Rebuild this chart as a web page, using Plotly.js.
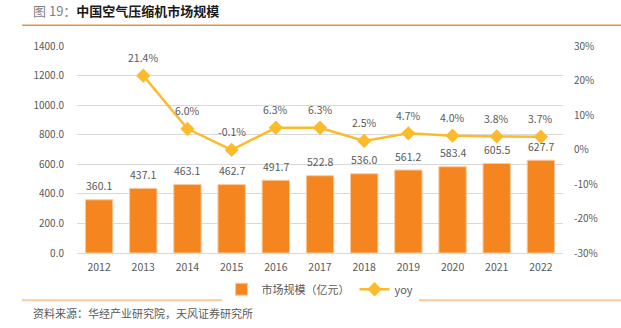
<!DOCTYPE html>
<html><head><meta charset="utf-8">
<script src="https://cdn.plot.ly/plotly-3.0.1.min.js"></script>
<style>html,body{margin:0;padding:0;background:#fff;}#chart{width:621px;height:328px;}</style>
</head><body><div id="chart"></div>
<script>
const years = ['2012','2013','2014','2015','2016','2017','2018','2019','2020','2021','2022'];
const marketSize = [360.1,437.1,463.1,462.7,491.7,522.8,536.0,561.2,583.4,605.5,627.7];
const yoy = [null,21.4,6.0,-0.1,6.3,6.3,2.5,4.7,4.0,3.8,3.7];
const leftTicks = [0,200,400,600,800,1000,1200,1400];
const rightTicks = [-30,-20,-10,0,10,20,30];

const FONT = '"Noto Sans CJK SC", "Noto Sans", sans-serif';
const GRAY = '#595959';

const bar = {
  type:'bar', x:years, y:marketSize, name:'市场规模（亿元）',
  marker:{color:'#F5861F', line:{color:'#FBC9A0', width:1}},
  width:0.62, cliponaxis:false, hoverinfo:'none'
};
const line = {
  type:'scatter', mode:'lines+markers', x:years, y:yoy, yaxis:'y2', name:'yoy',
  line:{color:'#FCBB2A', width:2.5}, marker:{symbol:'diamond', size:11, color:'#FCBB2A'},
  connectgaps:false, cliponaxis:false, hoverinfo:'none'
};

const annotations = [];
years.forEach((yr,i)=>{
  annotations.push({x:i, y:marketSize[i], xref:'x', yref:'y', text:marketSize[i].toFixed(1),
    showarrow:false, yshift:14, font:{family:FONT, size:10.5, color:GRAY}});
  if (yoy[i] !== null) {
    annotations.push({x:i, y:yoy[i], xref:'x', yref:'y2', text:yoy[i].toFixed(1)+'%',
      showarrow:false, yshift:18, font:{family:FONT, size:10.5, color:GRAY}});
  }
});
annotations.push({xref:'paper', yref:'paper', x:-0.095, y:1.17, xanchor:'left', yanchor:'middle', showarrow:false,
  text:'<span style="color:#7f7f7f;font-weight:normal">图 19：</span><b>中国空气压缩机市场规模</b>',
  font:{family:FONT, size:13, color:'#1a1a1a'}});
annotations.push({xref:'paper', yref:'paper', x:-0.095, y:-0.29, xanchor:'left', yanchor:'middle', showarrow:false,
  text:'资料来源：华经产业研究院，天风证券研究所', font:{family:FONT, size:11, color:GRAY}});

const layout = {
  width:621, height:328,
  margin:{l:77, r:58, t:46, b:75},
  paper_bgcolor:'#fff', plot_bgcolor:'#fff',
  font:{family:FONT, size:10, color:GRAY},
  showlegend:true,
  legend:{orientation:'h', x:0.5, xanchor:'center', y:-0.175, yanchor:'middle',
    font:{family:FONT, size:11, color:GRAY}, traceorder:'normal'},
  xaxis:{type:'category', range:[-0.5,10.5], autorange:false, showgrid:false, zeroline:false, showline:true, linecolor:'#d9d9d9', linewidth:1,
    ticks:'', tickfont:{family:FONT, size:10.5, color:GRAY}, ticklabelstandoff:4},
  yaxis:{range:[0,1400], tickvals:leftTicks, ticktext:leftTicks.map(v=>v.toFixed(1)),
    showgrid:true, gridcolor:'#d9d9d9', gridwidth:1, zeroline:false, showline:false,
    tickfont:{family:FONT, size:10, color:GRAY}, ticklabelstandoff:12},
  yaxis2:{overlaying:'y', side:'right', range:[-30,30], tickvals:rightTicks, ticktext:rightTicks.map(v=>v+'%'),
    showgrid:false, zeroline:false, showline:false,
    tickfont:{family:FONT, size:10, color:GRAY}, ticklabelstandoff:10},
  annotations: annotations,
  shapes:[
    {type:'line', xref:'paper', yref:'paper', x0:-0.113, x1:1.12, y0:1.1, y1:1.1, line:{color:'#E8914A', width:1.5}},
    {type:'line', xref:'paper', yref:'paper', x0:-0.113, x1:1.12, y0:-0.228, y1:-0.228, line:{color:'#F9C9A0', width:2}}
  ]
};

Plotly.newPlot('chart', [bar, line], layout, {staticPlot:true, displayModeBar:false});
</script></body></html>
